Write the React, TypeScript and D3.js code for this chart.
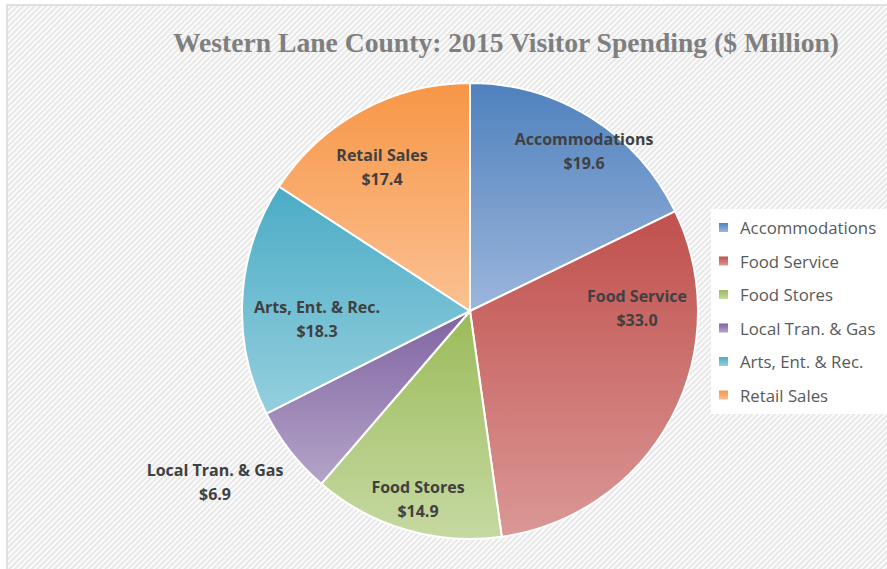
import React from "react";
import { pie, arc, PieArcDatum } from "d3";

const categories = [
  "Accommodations",
  "Food Service",
  "Food Stores",
  "Local Tran. & Gas",
  "Arts, Ent. & Rec.",
  "Retail Sales",
];
const spending = [19.6, 33.0, 14.9, 6.9, 18.3, 17.4];
const valueLabels = ["$19.6", "$33.0", "$14.9", "$6.9", "$18.3", "$17.4"];

// top / bottom colours of each slice's gradient
const topColors = ["#4f81bd", "#c0504d", "#9bbb59", "#8064a2", "#4bacc6", "#f79646"];
const bottomColors = ["#9cb6dc", "#da9896", "#c6d9a2", "#b4a4c8", "#95cfde", "#fbc193"];

// where Excel left each data label, relative to the pie centre
const labelOffsets: [number, number][] = [
  [114, -161],
  [167, -4],
  [-52, 187],
  [-255, 170],
  [-153, 7],
  [-88, -145],
];

const W = 887;
const H = 569;
const cx = 470;
const cy = 311;
const R = 228;

type Row = { name: string; value: number; label: string; i: number };

export default function App() {
  const rows: Row[] = categories.map((name, i) => ({
    name,
    value: spending[i],
    label: valueLabels[i],
    i,
  }));
  const slices = pie<Row>()
    .value((d) => d.value)
    .sort(null)(rows);
  const arcGen = arc<PieArcDatum<Row>>().innerRadius(0).outerRadius(R);

  const labelFont = "Open Sans, Noto Sans, sans-serif";

  return (
    <svg
      width={W}
      height={H}
      style={{ position: "absolute", left: 0, top: 0 }}
    >
      <defs>
        <pattern
          id="hatch"
          width={4}
          height={4}
          patternUnits="userSpaceOnUse"
          patternTransform="rotate(-45)"
        >
          <rect width={4} height={4} fill="#fbfbfb" />
          <rect width={4} height={1.6} fill="#e3e3e3" />
        </pattern>
        {slices.map((s) => (
          <linearGradient
            key={s.data.i}
            id={`g${s.data.i}`}
            x1="0"
            y1="0"
            x2="0"
            y2="1"
          >
            <stop offset="0" stopColor={topColors[s.data.i]} />
            <stop offset="1" stopColor={bottomColors[s.data.i]} />
          </linearGradient>
        ))}
      </defs>
      <rect x={7} y={5} width={W} height={H} fill="url(#hatch)" stroke="#d9d9d9" strokeWidth={1.5} />

      <text
        x={506}
        y={52}
        textAnchor="middle"
        fontFamily="Liberation Serif, DejaVu Serif, serif"
        fontWeight="bold"
        fontSize={28}
        fill="#7f7f7f"
        textLength={666}
        lengthAdjust="spacingAndGlyphs"
      >
        Western Lane County: 2015 Visitor Spending ($ Million)
      </text>

      <g transform={`translate(${cx},${cy})`}>
        {slices.map((s) => (
          <path
            key={s.data.i}
            d={arcGen(s) || ""}
            fill={`url(#g${s.data.i})`}
            stroke="#ffffff"
            strokeWidth={2}
          />
        ))}
        {slices.map((s) => {
          const [dx, dy] = labelOffsets[s.data.i];
          return (
            <text
              key={s.data.i}
              x={dx}
              y={dy}
              textAnchor="middle"
              fontFamily={labelFont}
              fontWeight="bold"
              fontSize={16}
              fill="#404040"
            >
              <tspan x={dx} dy={-5}>
                {s.data.name}
              </tspan>
              <tspan x={dx} dy={24}>
                {s.data.label}
              </tspan>
            </text>
          );
        })}
      </g>

      <rect x={711} y={209} width={W - 711} height={205} fill="#ffffff" />
      {categories.map((name, i) => (
        <g key={name} transform={`translate(719,${228 + i * 33.5})`}>
          <rect
            x={0}
            y={-5}
            width={9}
            height={9}
            fill={`url(#g${i})`}
          />
          <text
            x={21}
            y={6}
            fontFamily={labelFont}
            fontSize={16.8}
            fill="#595959"
          >
            {name}
          </text>
        </g>
      ))}
    </svg>
  );
}
